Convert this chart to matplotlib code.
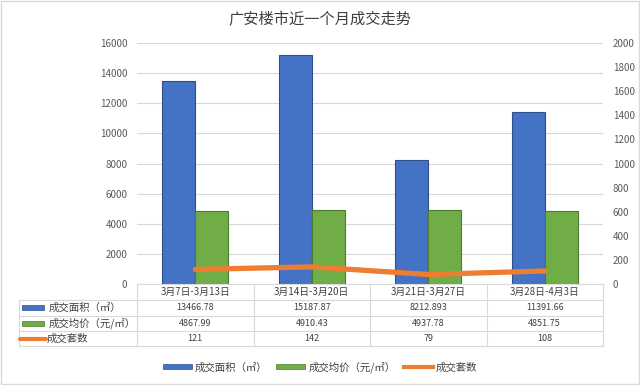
import numpy as np
import matplotlib.pyplot as plt
import matplotlib.transforms as mtransforms
from matplotlib.patches import Patch, Rectangle
from matplotlib.lines import Line2D

plt.rcParams['font.family'] = ['Noto Sans CJK SC', 'DejaVu Sans']

# data
weeks = ['3月7日-3月13日', '3月14日-3月20日', '3月21日-3月27日', '3月28日-4月3日']
area = [13466.78, 15187.87, 8212.893, 11391.66]
area_txt = ['13466.78', '15187.87', '8212.893', '11391.66']
price = [4867.99, 4910.43, 4937.78, 4851.75]
price_txt = ['4867.99', '4910.43', '4937.78', '4851.75']
units = [121, 142, 79, 108]
units_txt = ['121', '142', '79', '108']

names = ['成交面积（㎡）', '成交均价（元/㎡）', '成交套数']
blue, blue_edge = '#4472C4', '#2E4F8C'
green, green_edge = '#70AD47', '#4E7A30'
orange = '#ED7D31'
grid_c = '#D9D9D9'
txt_c = '#404040'
W, H = 640, 385

fig = plt.figure(figsize=(6.4, 3.85), dpi=100)
fig.patches.append(Rectangle((0.002, 0.003), 0.996, 0.994, transform=fig.transFigure,
                             fill=False, edgecolor=grid_c, linewidth=1))

ax = fig.add_axes([137 / W, 1 - 284 / H, (603 - 137) / W, (284 - 43) / H])
ax2 = ax.twinx()

x = np.arange(len(weeks))
bw = 0.285
ax.bar(x - bw / 2, area, bw, color=blue, edgecolor=blue_edge, linewidth=0.8, zorder=3)
ax.bar(x + bw / 2, price, bw, color=green, edgecolor=green_edge, linewidth=0.8, zorder=3)
ax2.plot(x, units, color=orange, linewidth=3.8, solid_capstyle='round',
         solid_joinstyle='round', zorder=4)

ax.set_xlim(-0.5, len(weeks) - 0.5)
ax.set_ylim(0, 16000)
ax.set_yticks(range(0, 16001, 2000))
ax2.set_ylim(0, 2000)
ax2.set_yticks(range(0, 2001, 200))
ax.set_xticks([])
ax.grid(axis='y', color=grid_c, linewidth=0.8, zorder=0)
for a in (ax, ax2):
    for s in a.spines.values():
        s.set_visible(False)
    a.tick_params(axis='y', length=0, labelsize=7, labelcolor='#595959')
ax.tick_params(axis='y', pad=7)
ax2.tick_params(axis='y', pad=7)
ax2.set_zorder(ax.get_zorder() + 1)
ax2.patch.set_visible(False)

fig.text(0.5, 1 - 20 / H, '广安楼市近一个月成交走势', ha='center', va='center',
         fontsize=11, color=txt_c)

# data table below the plot
bt = mtransforms.blended_transform_factory(ax.transData, fig.transFigure)
ft = fig.transFigure
rows_y = [284, 300, 315.5, 331, 346]
fy = [1 - v / H for v in rows_y]
lkw = dict(color=grid_c, linewidth=0.8, clip_on=False)

# horizontal lines
for i, yy in enumerate(fy):
    if i > 0:
        fig.add_artist(Line2D([19 / W, 137 / W], [yy, yy], transform=ft, **lkw))
    fig.add_artist(Line2D([-0.5, len(weeks) - 0.5], [yy, yy], transform=bt, **lkw))
# vertical lines
for k in range(len(weeks) + 1):
    fig.add_artist(Line2D([k - 0.5, k - 0.5], [fy[0], fy[-1]], transform=bt, **lkw))
fig.add_artist(Line2D([19 / W, 19 / W], [fy[1], fy[-1]], transform=ft, **lkw))

for k, wk in enumerate(weeks):
    ymid = (fy[0] + fy[1]) / 2
    fig.text(k, ymid, wk, transform=bt, ha='center', va='center', fontsize=7, color=txt_c)
for r, vals in enumerate([area_txt, price_txt, units_txt]):
    ymid = (fy[r + 1] + fy[r + 2]) / 2
    for k, v in enumerate(vals):
        fig.text(k, ymid, v, transform=bt, ha='center', va='center', fontsize=6.5,
                 color=txt_c)

# row labels with swatches
sw = [(blue, blue_edge), (green, green_edge)]
for r, name in enumerate(names):
    ymid = (fy[r + 1] + fy[r + 2]) / 2
    if r < 2:
        fig.patches.append(Rectangle((22 / W, ymid - 2.5 / H), 22 / W, 5 / H, transform=ft,
                                     facecolor=sw[r][0], edgecolor=sw[r][1], linewidth=0.5))
        tx = 49
    else:
        fig.add_artist(Line2D([20 / W, 46 / W], [ymid, ymid], transform=ft, color=orange,
                              linewidth=3, solid_capstyle='round'))
        tx = 47
    fig.text(tx / W, ymid, name, ha='left', va='center', fontsize=7.5, color=txt_c)

handles = [Patch(facecolor=blue, edgecolor=blue_edge, linewidth=0.5),
           Patch(facecolor=green, edgecolor=green_edge, linewidth=0.5),
           Line2D([], [], color=orange, linewidth=3)]
fig.legend(handles, names, loc='center', bbox_to_anchor=(0.5, 1 - 367 / H), ncol=3,
           frameon=False, fontsize=7.5, handlelength=2.8, handleheight=0.45,
           handletextpad=0.3, columnspacing=0.8, labelcolor=txt_c)

fig.savefig('out.png', dpi=100)
